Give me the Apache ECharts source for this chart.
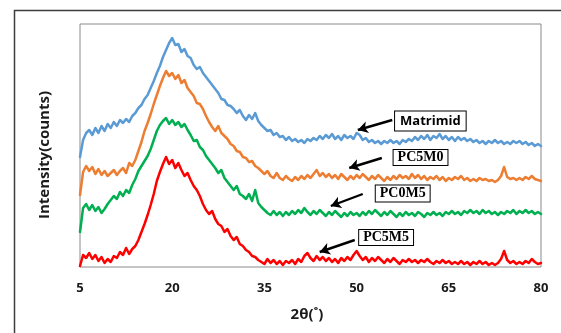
<!DOCTYPE html>
<html>
<head>
<meta charset="utf-8">
<script src="https://cdn.jsdelivr.net/npm/echarts@6/dist/echarts.min.js"></script>
<style>
  html, body { margin: 0; padding: 0; background: #fff; }
  #chart { width: 561px; height: 333px; }
</style>
</head>
<body>
<div id="chart"></div>
<script>
// XRD scan: 2θ from 5° to 80°, 0.5° step
const SCAN_START = 5;
const SCAN_END = 80;
const SCAN_STEP = 0.5;
const twoTheta = [];
for (let t = SCAN_START; t <= SCAN_END + 1e-9; t += SCAN_STEP) twoTheta.push(+t.toFixed(2));

const xTicks = [5, 20, 35, 50, 65, 80];
const seriesNames = ['Matrimid', 'PC5M0', 'PC0M5', 'PC5M5'];

// intensities (stacked offsets, arbitrary counts)
const matrimid = [
  110,127,134,137,132,139,134,141,136,143,
  139,145,141,147,144,148,145,151,154,159,
  162,168,172,179,186,194,201,210,217,224,
  229,222,223,215,218,211,209,202,198,200,
  194,190,186,182,178,174,168,167,162,161,
  158,154,157,151,147,152,148,154,146,142,
  139,136,137,132,134,130,131,127,130,126,
  128,125,127,124,128,126,129,127,131,128,
  132,129,133,128,131,127,132,129,131,128,
  134,132,127,129,125,127,124,126,123,126,
  124,127,124,126,123,127,125,128,126,130,
  127,131,128,132,127,131,129,133,128,131,
  127,130,126,130,127,129,126,128,125,127,
  124,126,123,126,124,127,124,126,123,125,
  123,126,124,126,123,125,122,124,121,123,
  121
];
const pc5m0 = [
  72,95,101,96,100,93,98,92,96,91,
  94,97,92,96,99,94,104,101,107,116,
  125,136,144,153,163,172,181,189,196,191,
  194,188,192,184,187,179,175,171,164,163,
  158,151,145,140,136,141,134,131,128,123,
  121,116,115,110,109,105,106,101,99,96,
  93,96,91,89,94,89,87,91,88,86,
  90,87,91,88,92,89,93,97,91,94,
  90,93,89,92,88,93,90,87,91,88,
  92,89,93,90,87,91,88,92,89,86,
  90,87,91,88,92,89,91,88,93,89,
  92,88,91,87,90,88,91,87,90,86,
  89,87,90,88,91,87,89,86,88,86,
  89,87,88,86,87,85,87,91,100,90,
  88,89,87,89,87,90,88,91,88,87,
  86
];
const pc0m5 = [
  35,59,63,57,62,56,60,54,58,63,
  67,71,68,75,71,77,74,82,88,96,
  101,106,111,118,127,136,142,146,149,143,
  147,142,145,140,143,137,132,126,127,120,
  117,111,107,103,99,94,97,89,85,81,
  77,81,73,71,68,73,66,77,64,60,
  57,54,52,56,52,55,51,55,52,56,
  53,57,54,59,55,52,56,53,57,54,
  51,55,52,56,53,50,54,51,55,52,
  54,51,55,52,56,53,57,54,51,55,
  52,56,53,50,54,51,55,52,54,51,
  55,53,50,54,52,55,52,54,51,55,
  53,56,53,55,52,56,54,57,54,56,
  53,57,54,56,53,55,52,55,53,56,
  54,57,53,56,54,57,54,56,53,55,
  53
];
const pc5m5 = [
  1,12,9,14,8,12,6,10,4,8,
  5,11,9,15,12,19,13,18,21,27,
  35,43,52,62,73,86,95,103,110,103,
  107,99,104,97,91,94,87,81,77,71,
  63,57,53,56,48,43,41,35,38,31,
  27,30,23,21,17,15,11,10,7,5,
  3,8,4,7,3,6,2,6,4,7,
  3,8,5,11,14,9,6,11,7,10,
  6,9,5,8,4,9,6,10,7,12,
  16,11,7,10,5,9,6,10,7,4,
  8,5,9,6,3,7,5,8,5,7,
  4,7,5,8,5,3,6,4,7,4,
  6,3,5,3,6,3,5,2,5,3,
  6,3,5,2,4,2,4,8,16,7,
  4,6,3,5,3,6,4,8,5,3,
  4
];

// callout placement per trace: label centre, arrow tail, arrow tip (in 2θ / counts)
const labelAt = [[62.0, 146], [60.4, 109.5], [57.5, 73.5], [54.8, 29.5]];
const arrowFrom = [[55.8, 147], [54.1, 109], [51.0, 73], [49.7, 27]];
const arrowTo = [[50.2, 137], [48.8, 99], [45.8, 61], [44.0, 15]];

const colors = ['#5B9BD5', '#ED7D31', '#00B050', '#FF0000'];
const values = [matrimid, pc5m0, pc0m5, pc5m5];

const labelStyles = [
  { fontFamily: 'Open Sans', fontWeight: 'bold', fontSize: 13, lineHeight: 16, padding: [2, 5, 1, 5] },
  { fontFamily: 'Liberation Serif', fontWeight: 'bold', fontSize: 14, lineHeight: 14, padding: [1, 4, 0, 4] },
  { fontFamily: 'Liberation Serif', fontWeight: 'bold', fontSize: 14, lineHeight: 14, padding: [1, 4, 1, 4] },
  { fontFamily: 'Liberation Serif', fontWeight: 'bold', fontSize: 14, lineHeight: 14, padding: [1, 4, 0, 4] }
];

const series = seriesNames.map((name, k) => ({
  name,
  type: 'line',
  data: twoTheta.map((t, i) => [t, values[k][i]]),
  showSymbol: false,
  symbol: 'none',
  smooth: false,
  lineStyle: { color: colors[k], width: 2.5, join: 'round', cap: 'round' },
  itemStyle: { color: colors[k] },
  z: 4 - k,
  markLine: {
    silent: true,
    symbol: ['none', 'arrow'],
    symbolSize: [9, 10],
    lineStyle: { color: '#000', width: 2.4, type: 'solid' },
    label: { show: false },
    data: [[
      { coord: arrowFrom[k] },
      { coord: arrowTo[k] }
    ]]
  },
  markPoint: {
    silent: true,
    symbol: 'rect',
    symbolSize: 1,
    itemStyle: { color: 'rgba(0,0,0,0)' },
    label: Object.assign({
      show: true,
      position: 'inside',
      formatter: name,
      color: '#000',
      backgroundColor: '#fff',
      borderColor: '#000',
      borderWidth: 1
    }, labelStyles[k]),
    data: [{ coord: labelAt[k] }]
  }
}));

const chart = echarts.init(document.getElementById('chart'), null, { renderer: 'canvas' });
chart.setOption({
  animation: false,
  backgroundColor: '#fff',
  grid: {
    left: 80, right: 20, top: 24, bottom: 66,
    show: true, borderColor: '#8a8a8a', borderWidth: 1, backgroundColor: 'transparent'
  },
  xAxis: {
    type: 'value',
    min: SCAN_START,
    max: SCAN_END,
    axisLine: { show: false },
    axisTick: { show: false },
    splitLine: { show: false },
    axisLabel: {
      customValues: xTicks,
      margin: 15,
      color: '#1a1a1a',
      fontFamily: 'Open Sans',
      fontWeight: 'bold',
      fontSize: 13
    }
  },
  yAxis: {
    type: 'value',
    min: 0,
    max: 243,
    axisLine: { show: false },
    axisTick: { show: false },
    axisLabel: { show: false },
    splitLine: { show: false }
  },
  graphic: [
    {
      type: 'rect',
      shape: { x: 14.5, y: 10.5, width: 600, height: 400 },
      style: { fill: 'none', stroke: '#3c3c3c', lineWidth: 1.5 },
      silent: true
    },
    {
      type: 'text',
      x: 45, y: 155,
      rotation: Math.PI / 2,
      style: {
        text: 'Intensity(counts)',
        fill: '#1a1a1a',
        font: 'bold 15px "Open Sans"',
        align: 'center',
        verticalAlign: 'middle'
      }
    },
    {
      type: 'text',
      x: 307, y: 315,
      style: {
        text: '2θ(˚)',
        fill: '#1a1a1a',
        font: 'bold 15px "Open Sans"',
        align: 'center',
        verticalAlign: 'middle'
      }
    }
  ],
  series
});
</script>
</body>
</html>
